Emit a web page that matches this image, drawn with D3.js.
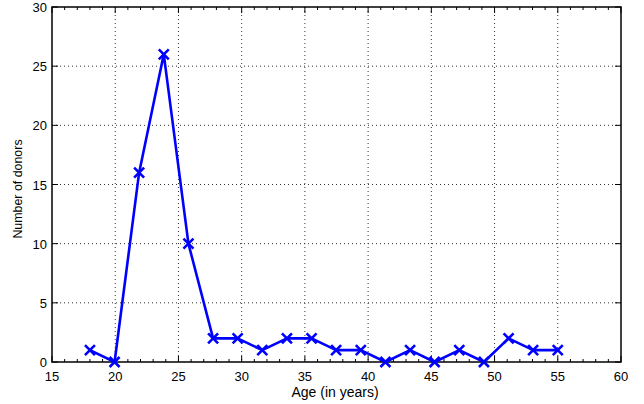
<!DOCTYPE html>
<html><head><meta charset="utf-8">
<script src="https://cdn.jsdelivr.net/npm/d3@7"></script>
<style>body{margin:0;background:#fff}svg{display:block}text{font-family:"Liberation Sans",Arial,sans-serif;fill:#000}</style>
</head><body><svg id="c" width="644" height="404"></svg>
<script>
const ages = [18, 19.95, 21.89, 23.84, 25.79, 27.74, 29.68, 31.63, 33.58, 35.53, 37.47, 39.42, 41.37, 43.32, 45.26, 47.21, 49.16, 51.11, 53.05, 55];
const donors = [1, 0, 16, 26, 10, 2, 2, 1, 2, 2, 1, 1, 0, 1, 0, 1, 0, 2, 1, 1];
const xTicks = [15, 20, 25, 30, 35, 40, 45, 50, 55, 60];
const yTicks = [0, 5, 10, 15, 20, 25, 30];
const xMinor = d3.range(15, 61, 1);

const L = 52, R = 621, T = 7, B = 362;
const svg = d3.select("#c");
const x = d3.scaleLinear().domain([15, 60]).range([L, R]);
const y = d3.scaleLinear().domain([0, 30]).range([B, T]);

// grid
const g = svg.append("g");
g.selectAll(".gx").data(xTicks.slice(1, -1)).join("line")
  .attr("x1", d => x(d)).attr("x2", d => x(d)).attr("y1", T).attr("y2", B)
  .attr("stroke", "#333").attr("stroke-width", 1).attr("stroke-dasharray", "1,3");
g.selectAll(".gy").data(yTicks.slice(1, -1)).join("line")
  .attr("y1", d => y(d)).attr("y2", d => y(d)).attr("x1", L).attr("x2", R)
  .attr("stroke", "#333").attr("stroke-width", 1).attr("stroke-dasharray", "1,3");

// ticks
const tk = svg.append("g").attr("stroke", "#000").attr("stroke-width", 1);
tk.selectAll(".mb").data(xMinor).join("line")
  .attr("x1", d => x(d)).attr("x2", d => x(d)).attr("y1", B).attr("y2", d => B - (xTicks.includes(d) ? 6 : 3));
tk.selectAll(".mt").data(xMinor).join("line")
  .attr("x1", d => x(d)).attr("x2", d => x(d)).attr("y1", T).attr("y2", d => T + (xTicks.includes(d) ? 6 : 3));
tk.selectAll(".yl").data(yTicks).join("line")
  .attr("y1", d => y(d)).attr("y2", d => y(d)).attr("x1", L).attr("x2", L + 6);
tk.selectAll(".yr").data(yTicks).join("line")
  .attr("y1", d => y(d)).attr("y2", d => y(d)).attr("x1", R).attr("x2", R - 6);

// box
svg.append("rect").attr("x", L).attr("y", T).attr("width", R - L).attr("height", B - T)
  .attr("fill", "none").attr("stroke", "#000").attr("stroke-width", 1.5);

// labels
svg.selectAll(".xt").data(xTicks).join("text")
  .attr("x", d => x(d)).attr("y", B + 19).attr("text-anchor", "middle")
  .attr("font-size", 13).text(d => d);
svg.selectAll(".yt").data(yTicks).join("text")
  .attr("x", L - 5).attr("y", d => y(d) + 5).attr("text-anchor", "end")
  .attr("font-size", 13).text(d => d);
svg.append("text").attr("x", 335).attr("y", 397).attr("text-anchor", "middle")
  .attr("font-size", 14).text("Age (in years)");
svg.append("text").attr("transform", `translate(22,189) rotate(-90)`)
  .attr("text-anchor", "middle").attr("font-size", 12.4).text("Number of donors");

// line
const line = d3.line().x((d, i) => x(ages[i])).y(d => y(d));
svg.append("path").datum(donors).attr("d", line).attr("fill", "none")
  .attr("stroke", "#0000ff").attr("stroke-width", 2.6).attr("stroke-linejoin", "round");
const s = 5;
svg.selectAll(".mk").data(donors).join("path")
  .attr("d", (d, i) => { const cx = x(ages[i]), cy = y(d);
    return `M${cx - s},${cy - s}L${cx + s},${cy + s}M${cx - s},${cy + s}L${cx + s},${cy - s}`; })
  .attr("stroke", "#0000ff").attr("stroke-width", 2.6).attr("fill", "none");
</script></body></html>
